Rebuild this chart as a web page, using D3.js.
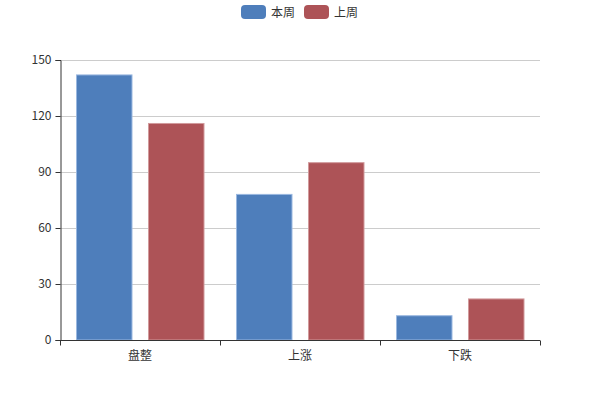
<!DOCTYPE html>
<html><head><meta charset="utf-8">
<script src="https://cdn.jsdelivr.net/npm/d3@7"></script>
<style>body{margin:0;background:#fff}svg{display:block}text{font-family:"Noto Sans CJK SC","Noto Sans",sans-serif}</style>
</head><body><svg id="c" width="600" height="400"></svg>
<script>
const categories = ["盘整","上涨","下跌"];
const seriesNames = ["本周","上周"];
const thisWeek = [142,78,13];
const lastWeek = [116,95,22];
const yTicks = [0,30,60,90,120,150];
const colors = ["#4e7ebb","#ad5357"];
const strokes = ["#9ab8e0","#d19a9c"];

const svg = d3.select("#c");
const m = {l:60,r:60,t:60,b:60};
const W = 600, H = 400;
const x = d3.scaleBand().domain(categories).range([m.l, W-m.r]).paddingInner(0).paddingOuter(0);
const y = d3.scaleLinear().domain([0,150]).range([H-m.b, m.t]);
const bw = x.bandwidth();
const barW = bw*0.35, pad = bw*0.1;

// grid
svg.append("g").selectAll("line").data(yTicks.filter(d=>d>0)).join("line")
  .attr("x1",m.l).attr("x2",W-m.r).attr("y1",d=>y(d)+0.5).attr("y2",d=>y(d)+0.5)
  .attr("stroke","#ccc").attr("stroke-width",1);

const data = [thisWeek, lastWeek];
seriesNames.forEach((s,i)=>{
  svg.append("g").selectAll("rect").data(categories).join("rect")
    .attr("x",c=>x(c)+pad+i*(barW+pad)+0.5).attr("width",barW-0.5)
    .attr("y",(c,j)=>y(data[i][j])).attr("height",(c,j)=>y(0)-y(data[i][j]))
    .attr("fill",colors[i]).attr("stroke",strokes[i]).attr("stroke-width",1);
});

// y axis
const ya = svg.append("g").attr("transform",`translate(${m.l+0.5},0)`)
  .call(d3.axisLeft(y).tickValues(yTicks).tickSize(5).tickPadding(4));
ya.select(".domain").attr("stroke","#333");
ya.selectAll(".tick line").attr("stroke","#333");
ya.selectAll("text").attr("fill","#333").style("font-size","12px");

// x axis
const xa = svg.append("g").attr("transform",`translate(0,${H-m.b+0.5})`);
xa.append("line").attr("x1",m.l).attr("x2",W-m.r).attr("stroke","#333");
const bounds = categories.map(c=>x(c)).concat([x(categories[categories.length-1])+bw]);
xa.selectAll("line.t").data(bounds).join("line").attr("class","t")
  .attr("x1",d=>Math.round(d)+0.5).attr("x2",d=>Math.round(d)+0.5).attr("y1",0).attr("y2",5).attr("stroke","#333");
xa.selectAll("text").data(categories).join("text")
  .attr("x",c=>x(c)+bw/2).attr("y",19).attr("text-anchor","middle")
  .attr("fill","#333").style("font-size","12px").text(c=>c);

// legend
const lg = svg.append("g");
const lx = [241,304];
seriesNames.forEach((s,i)=>{
  lg.append("rect").attr("x",lx[i]).attr("y",5).attr("width",25).attr("height",14).attr("rx",4)
    .attr("fill",colors[i]);
  lg.append("text").attr("x",lx[i]+30).attr("y",16.5).attr("fill","#333").style("font-size","12px").text(s);
});
</script></body></html>
